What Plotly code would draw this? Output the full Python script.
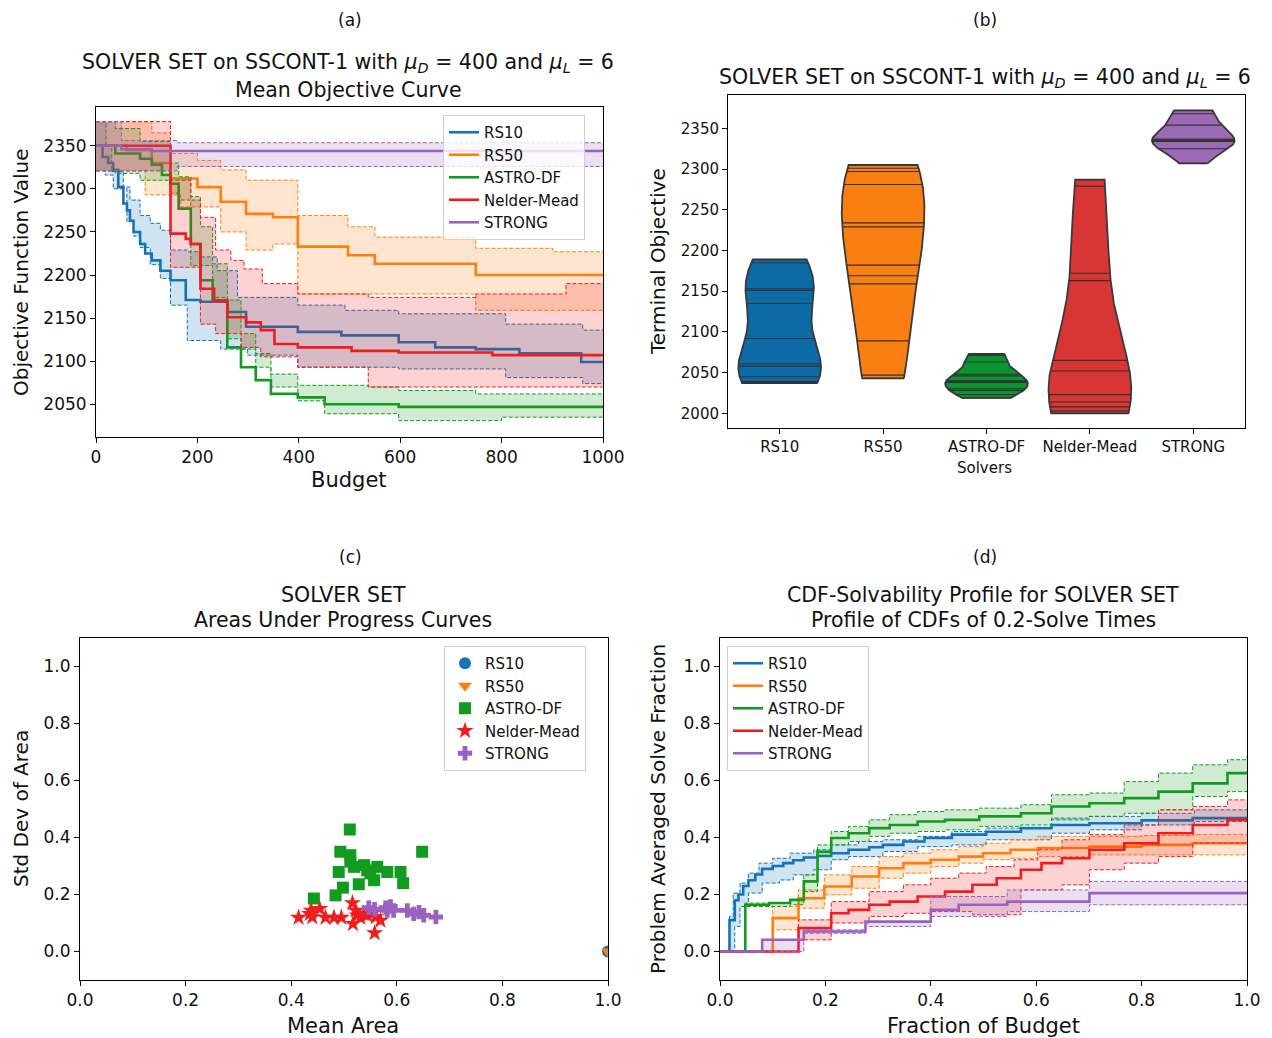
import numpy as np
import plotly.graph_objects as go

W, H = 1272, 1038
OFF = 8  # page body margin compensation
FW, FH = W - OFF, H - OFF

# ---------------- data ----------------
solvers = ["RS10", "RS50", "ASTRO-DF", "Nelder-Mead", "STRONG"]

# (a) mean objective curves (step functions: budget, value)
rs10_mean_b = [0, 13, 24, 34, 44, 54, 61, 67, 74, 87, 97, 110, 127, 147, 177, 206, 259, 296, 398, 484, 597, 669, 749, 835, 957, 1000]
rs10_mean_v = [2350, 2337, 2330, 2322, 2302, 2283, 2275, 2263, 2250, 2236, 2225, 2217, 2205, 2194, 2171, 2169, 2157, 2140, 2134, 2130, 2122, 2116, 2114, 2109, 2099, 2099]
rs10_up_b = [0, 20, 31, 54, 67, 87, 107, 127, 147, 180, 206, 239, 279, 398, 491, 597, 808, 960, 1000]
rs10_up_v = [2378, 2350, 2320, 2302, 2287, 2269, 2260, 2252, 2229, 2227, 2221, 2205, 2174, 2165, 2159, 2155, 2143, 2136, 2136]
rs10_lo_b = [0, 18, 34, 61, 74, 87, 107, 127, 147, 180, 246, 299, 398, 491, 597, 808, 960, 1000]
rs10_lo_v = [2321, 2316, 2300, 2262, 2245, 2232, 2212, 2196, 2165, 2124, 2114, 2107, 2093, 2093, 2091, 2081, 2074, 2074]

rs50_mean_b = [0, 60, 110, 147, 200, 246, 296, 349, 398, 497, 550, 749, 1000]
rs50_mean_v = [2350, 2345, 2330, 2312, 2302, 2285, 2271, 2267, 2233, 2223, 2213, 2200, 2200]
rs50_up_b = [0, 110, 147, 200, 246, 296, 398, 497, 550, 749, 901, 1000]
rs50_up_v = [2378, 2365, 2341, 2333, 2322, 2310, 2269, 2256, 2244, 2231, 2227, 2227]
rs50_lo_b = [0, 97, 167, 246, 296, 349, 398, 749, 1000]
rs50_lo_v = [2321, 2293, 2279, 2250, 2229, 2236, 2178, 2159, 2159]

astro_mean_b = [0, 38, 87, 110, 130, 147, 163, 187, 206, 230, 259, 286, 315, 345, 398, 451, 597, 1000]
astro_mean_v = [2350, 2341, 2335, 2328, 2316, 2306, 2277, 2236, 2194, 2171, 2116, 2093, 2078, 2062, 2058, 2050, 2047, 2048]
astro_up_b = [0, 38, 87, 147, 163, 187, 206, 230, 259, 286, 315, 345, 398, 537, 597, 749, 1000]
astro_up_v = [2378, 2370, 2355, 2330, 2314, 2291, 2256, 2213, 2171, 2132, 2109, 2085, 2072, 2070, 2066, 2062, 2062]
astro_lo_b = [0, 38, 87, 147, 163, 187, 230, 259, 286, 315, 345, 398, 451, 597, 800, 1000]
astro_lo_v = [2321, 2318, 2310, 2295, 2287, 2211, 2174, 2126, 2114, 2093, 2070, 2054, 2039, 2031, 2035, 2035]

nm_mean_b = [0, 147, 177, 187, 206, 233, 259, 296, 325, 352, 398, 504, 597, 782, 1000]
nm_mean_v = [2350, 2248, 2242, 2236, 2184, 2170, 2151, 2145, 2136, 2120, 2116, 2112, 2110, 2107, 2107]
nm_up_b = [0, 147, 187, 206, 236, 266, 292, 328, 398, 537, 749, 927, 1000]
nm_up_v = [2378, 2310, 2287, 2267, 2229, 2217, 2207, 2190, 2178, 2174, 2178, 2190, 2190]
nm_lo_b = [0, 147, 206, 236, 286, 325, 398, 537, 1000]
nm_lo_v = [2321, 2209, 2143, 2132, 2116, 2105, 2093, 2070, 2070]

strong_mean_b = [0, 50, 110, 1000]
strong_mean_v = [2350, 2346, 2344, 2344]
strong_up_b = [0, 50, 160, 1000]
strong_up_v = [2378, 2356, 2353.5, 2353.5]
strong_lo_b = [0, 160, 1000]
strong_lo_v = [2321, 2326, 2326]

# (b) terminal objective values per macroreplication
rs10_terminal = [2189, 2185, 2153, 2151, 2135, 2092, 2061, 2058, 2045, 2039, 2037]
rs50_terminal = [2305, 2301, 2297, 2281, 2234, 2229, 2182, 2169, 2159, 2089, 2047, 2043]
astro_terminal = [2073, 2071, 2063, 2048, 2046, 2040, 2039, 2038, 2030, 2028, 2023, 2019]
nm_terminal = [2287, 2279, 2172, 2163, 2065, 2052, 2023, 2014, 2008, 2003, 2000]
strong_terminal = [2372, 2368, 2354, 2337, 2336, 2335, 2334, 2325, 2307]

# (c) areas under progress curves
rs10_area_mean = [1.0]
rs10_area_std = [0.0]
rs50_area_mean = [1.0]
rs50_area_std = [0.0]
astro_area_mean = [0.511, 0.493, 0.648, 0.512, 0.512, 0.519, 0.538, 0.544, 0.563, 0.582, 0.607, 0.49, 0.55, 0.557, 0.528, 0.612, 0.498, 0.484, 0.443]
astro_area_std = [0.428, 0.35, 0.35, 0.338, 0.315, 0.297, 0.303, 0.285, 0.297, 0.279, 0.279, 0.279, 0.274, 0.25, 0.236, 0.24, 0.224, 0.197, 0.186]
nm_area_mean = [0.414, 0.435, 0.44, 0.454, 0.465, 0.481, 0.495, 0.516, 0.522, 0.525, 0.531, 0.517, 0.544, 0.557, 0.56, 0.569, 0.558, 0.438, 0.537]
nm_area_std = [0.119, 0.132, 0.121, 0.15, 0.119, 0.119, 0.119, 0.17, 0.144, 0.127, 0.119, 0.097, 0.127, 0.138, 0.121, 0.109, 0.065, 0.144, 0.132]
strong_area_mean = [0.547, 0.579, 0.588, 0.594, 0.582, 0.62, 0.632, 0.642, 0.651, 0.674, 0.558]
strong_area_std = [0.154, 0.154, 0.158, 0.144, 0.144, 0.144, 0.132, 0.138, 0.127, 0.121, 0.148]

# (d) CDF-solvability profiles (fraction of budget, solve fraction)
rs10_cdf_x = [0, 0.018, 0.028, 0.035, 0.044, 0.054, 0.067, 0.08, 0.1, 0.12, 0.139, 0.159, 0.185, 0.211, 0.244, 0.283, 0.309, 0.348, 0.388, 0.44, 0.505, 0.571, 0.629, 0.701, 0.8, 0.897, 1.0]
rs10_cdf_y = [0, 0.11, 0.18, 0.2, 0.23, 0.25, 0.27, 0.29, 0.30, 0.31, 0.32, 0.33, 0.335, 0.345, 0.357, 0.366, 0.374, 0.386, 0.398, 0.41, 0.42, 0.433, 0.444, 0.45, 0.46, 0.468, 0.468]
rs10_cdf_up_x = [0, 0.018, 0.025, 0.038, 0.054, 0.074, 0.1, 0.133, 0.178, 0.211, 0.263, 0.309, 0.375, 0.44, 0.505, 0.629, 0.701, 0.8, 0.9, 1.0]
rs10_cdf_up_y = [0, 0.123, 0.205, 0.24, 0.275, 0.31, 0.327, 0.345, 0.357, 0.374, 0.386, 0.392, 0.404, 0.421, 0.433, 0.468, 0.474, 0.485, 0.497, 0.497]
rs10_cdf_lo_x = [0, 0.018, 0.028, 0.038, 0.054, 0.08, 0.113, 0.139, 0.178, 0.211, 0.244, 0.309, 0.375, 0.44, 0.505, 0.629, 0.701, 0.8, 0.9, 1.0]
rs10_cdf_lo_y = [0, 0.0, 0.088, 0.158, 0.205, 0.24, 0.251, 0.269, 0.287, 0.322, 0.333, 0.351, 0.368, 0.374, 0.392, 0.415, 0.427, 0.444, 0.456, 0.456]

rs50_cdf_x = [0, 0.1, 0.149, 0.198, 0.25, 0.302, 0.348, 0.4, 0.453, 0.499, 0.551, 0.603, 0.701, 0.8, 0.897, 1.0]
rs50_cdf_y = [0, 0.117, 0.187, 0.228, 0.263, 0.292, 0.31, 0.322, 0.333, 0.345, 0.357, 0.363, 0.368, 0.374, 0.38, 0.38]
rs50_cdf_up_y = [0, 0.158, 0.216, 0.269, 0.298, 0.333, 0.345, 0.357, 0.368, 0.38, 0.392, 0.404, 0.404, 0.407, 0.41, 0.41]
rs50_cdf_lo_y = [0, 0.076, 0.152, 0.199, 0.222, 0.257, 0.275, 0.298, 0.31, 0.322, 0.327, 0.333, 0.339, 0.339, 0.339, 0.339]

astro_cdf_x = [0, 0.048, 0.093, 0.133, 0.159, 0.185, 0.211, 0.244, 0.283, 0.322, 0.375, 0.427, 0.492, 0.571, 0.629, 0.701, 0.767, 0.832, 0.897, 0.963, 1.0]
astro_cdf_y = [0, 0.164, 0.17, 0.181, 0.246, 0.35, 0.398, 0.415, 0.433, 0.444, 0.456, 0.462, 0.474, 0.485, 0.509, 0.52, 0.538, 0.561, 0.59, 0.626, 0.632]
astro_cdf_b_x = [0, 0.048, 0.133, 0.159, 0.185, 0.211, 0.244, 0.283, 0.322, 0.375, 0.427, 0.492, 0.571, 0.629, 0.701, 0.767, 0.832, 0.897, 0.963, 1.0]
astro_cdf_up_y = [0, 0.17, 0.181, 0.269, 0.374, 0.421, 0.439, 0.462, 0.48, 0.491, 0.497, 0.503, 0.515, 0.55, 0.556, 0.596, 0.626, 0.655, 0.673, 0.684]
astro_cdf_lo_y = [0, 0.158, 0.164, 0.21, 0.333, 0.374, 0.386, 0.404, 0.415, 0.421, 0.427, 0.439, 0.444, 0.462, 0.474, 0.485, 0.497, 0.544, 0.561, 0.567]

nm_cdf_x = [0, 0.149, 0.211, 0.244, 0.283, 0.322, 0.375, 0.427, 0.479, 0.525, 0.571, 0.61, 0.649, 0.701, 0.767, 0.832, 0.897, 0.963, 1.0]
nm_cdf_y = [0, 0.082, 0.134, 0.146, 0.164, 0.175, 0.193, 0.21, 0.234, 0.257, 0.287, 0.31, 0.327, 0.357, 0.38, 0.415, 0.444, 0.462, 0.468]
nm_cdf_up_x = [0, 0.149, 0.211, 0.283, 0.348, 0.4, 0.453, 0.505, 0.558, 0.603, 0.649, 0.701, 0.767, 0.832, 0.897, 0.963, 1.0]
nm_cdf_up_y = [0, 0.111, 0.175, 0.21, 0.234, 0.257, 0.275, 0.298, 0.322, 0.357, 0.392, 0.41, 0.444, 0.497, 0.509, 0.532, 0.532]
nm_cdf_lo_x = [0, 0.149, 0.211, 0.283, 0.348, 0.4, 0.479, 0.571, 0.649, 0.701, 0.767, 0.832, 0.897, 1.0]
nm_cdf_lo_y = [0, 0.041, 0.1, 0.123, 0.134, 0.14, 0.129, 0.216, 0.234, 0.287, 0.31, 0.333, 0.38, 0.386]

strong_cdf_x = [0, 0.08, 0.159, 0.276, 0.4, 0.453, 0.545, 0.701, 1.0]
strong_cdf_y = [0, 0.041, 0.07, 0.105, 0.146, 0.164, 0.175, 0.205, 0.205]
strong_cdf_b_x = [0, 0.08, 0.159, 0.276, 0.4, 0.545, 0.701, 1.0]
strong_cdf_up_y = [0, 0.041, 0.076, 0.105, 0.193, 0.216, 0.246, 0.246]
strong_cdf_lo_y = [0, 0.0, 0.064, 0.088, 0.123, 0.14, 0.164, 0.164]

# ---------------- styles ----------------
line_colors = ["#1473b6", "#ff7f0e", "#129c1f", "#ee1d1f", "#9a62c0"]
violin_colors = ["#0c6aa6", "#fa7f12", "#0b9531", "#d83535", "#9b69b6"]
FONT = "DejaVu Sans"


def rgba(hexc, a):
    h = hexc.lstrip("#")
    return "rgba(%d,%d,%d,%.2f)" % (int(h[0:2], 16), int(h[2:4], 16), int(h[4:6], 16), a)


def px(x):
    return (x - OFF) / FW


def py(y):
    return 1 - (y - OFF) / FH


fig = go.Figure()


def add_band(xa, ya, lo_x, lo_y, up_x, up_y, mx, my, color, name, legend):
    fig.add_trace(go.Scatter(x=lo_x, y=lo_y, mode="lines", line=dict(color=color, width=1, dash="4px,2px", shape="hv"),
                             showlegend=False, xaxis=xa, yaxis=ya, hoverinfo="skip"))
    fig.add_trace(go.Scatter(x=up_x, y=up_y, mode="lines", line=dict(color=color, width=1, dash="4px,2px", shape="hv"),
                             fill="tonexty", fillcolor=rgba(color, 0.2), showlegend=False, xaxis=xa, yaxis=ya,
                             hoverinfo="skip"))
    fig.add_trace(go.Scatter(x=mx, y=my, mode="lines", line=dict(color=color, width=2.6, shape="hv"),
                             name=name, legend=legend, xaxis=xa, yaxis=ya))


# (a)
curves_a = [
    (rs10_lo_b, rs10_lo_v, rs10_up_b, rs10_up_v, rs10_mean_b, rs10_mean_v),
    (rs50_lo_b, rs50_lo_v, rs50_up_b, rs50_up_v, rs50_mean_b, rs50_mean_v),
    (astro_lo_b, astro_lo_v, astro_up_b, astro_up_v, astro_mean_b, astro_mean_v),
    (nm_lo_b, nm_lo_v, nm_up_b, nm_up_v, nm_mean_b, nm_mean_v),
    (strong_lo_b, strong_lo_v, strong_up_b, strong_up_v, strong_mean_b, strong_mean_v),
]
for i, c in enumerate(curves_a):
    add_band("x", "y", *c, line_colors[i], solvers[i], "legend")

# (b) violins with stick lines
terminals = [rs10_terminal, rs50_terminal, astro_terminal, nm_terminal, strong_terminal]
for i, vals in enumerate(terminals):
    v = np.asarray(vals, float)
    bw = v.std(ddof=1) * len(v) ** (-1 / 5)
    grid = np.linspace(v.min(), v.max(), 200)

    def dens(g):
        g = np.atleast_1d(g)
        return np.exp(-0.5 * ((g[:, None] - v[None, :]) / bw) ** 2).sum(1)

    d = dens(grid)
    half = d / d.max() * 0.4
    xs = np.concatenate([i + half, (i - half)[::-1], [i + half[0]]])
    ys = np.concatenate([grid, grid[::-1], [grid[0]]])
    fig.add_trace(go.Scatter(x=xs, y=ys, mode="lines", fill="toself", fillcolor=violin_colors[i],
                             line=dict(color="#3a3a3a", width=1.8), showlegend=False, xaxis="x2", yaxis="y2",
                             hoverinfo="skip"))
    hw = dens(v) / d.max() * 0.4
    sx, sy = [], []
    for val, h in zip(v, hw):
        sx += [i - h, i + h, None]
        sy += [val, val, None]
    fig.add_trace(go.Scatter(x=sx, y=sy, mode="lines", line=dict(color="#333333", width=1.1),
                             showlegend=False, xaxis="x2", yaxis="y2", hoverinfo="skip"))

# (c) scatter
areas = [(rs10_area_mean, rs10_area_std, "circle"), (rs50_area_mean, rs50_area_std, "triangle-down"),
         (astro_area_mean, astro_area_std, "square"), (nm_area_mean, nm_area_std, "star"),
         (strong_area_mean, strong_area_std, "cross")]
sizes = [12, 12, 12, 13, 12]
for i, (mx, sd, sym) in enumerate(areas):
    fig.add_trace(go.Scatter(x=mx, y=sd, mode="markers", marker=dict(symbol=sym, size=sizes[i], color=line_colors[i],
                                                                      line=dict(width=0)),
                             name=solvers[i], legend="legend2", xaxis="x3", yaxis="y3"))

# (d)
curves_d = [
    (rs10_cdf_lo_x, rs10_cdf_lo_y, rs10_cdf_up_x, rs10_cdf_up_y, rs10_cdf_x, rs10_cdf_y),
    (rs50_cdf_x, rs50_cdf_lo_y, rs50_cdf_x, rs50_cdf_up_y, rs50_cdf_x, rs50_cdf_y),
    (astro_cdf_b_x, astro_cdf_lo_y, astro_cdf_b_x, astro_cdf_up_y, astro_cdf_x, astro_cdf_y),
    (nm_cdf_lo_x, nm_cdf_lo_y, nm_cdf_up_x, nm_cdf_up_y, nm_cdf_x, nm_cdf_y),
    (strong_cdf_b_x, strong_cdf_lo_y, strong_cdf_b_x, strong_cdf_up_y, strong_cdf_x, strong_cdf_y),
]
for i, c in enumerate(curves_d):
    add_band("x4", "y4", *c, line_colors[i], solvers[i], "legend3")

# ---------------- layout ----------------
def tf(s):
    return dict(family=FONT, size=s, color="#111")


axis_common = dict(showline=True, mirror=True, linecolor="black", linewidth=1, ticks="outside", ticklen=5,
                   tickcolor="black", showgrid=False, zeroline=False, tickfont=tf(17), automargin=False)

legend_common = dict(xanchor="left", yanchor="top", bgcolor="rgba(255,255,255,0.8)", bordercolor="#d0d0d0",
                     borderwidth=1, font=tf(15), tracegroupgap=0, itemwidth=30, traceorder="normal")

layout = dict(
    width=FW, height=FH, margin=dict(l=0, r=0, t=0, b=0, autoexpand=False), paper_bgcolor="white",
    plot_bgcolor="white", font=dict(family=FONT, color="#111"),
    xaxis=dict(axis_common, domain=[px(96), px(603)], range=[0, 1000], tickvals=[0, 200, 400, 600, 800, 1000],
               anchor="y"),
    yaxis=dict(axis_common, domain=[py(437), py(107)], range=[2012, 2395],
               tickvals=[2050, 2100, 2150, 2200, 2250, 2300, 2350], anchor="x"),
    xaxis2=dict(axis_common, domain=[px(728), px(1245)], range=[-0.5, 4.5], tickvals=list(range(len(solvers))),
                ticktext=solvers, anchor="y2", tickfont=tf(15)),
    yaxis2=dict(axis_common, domain=[py(428), py(95)], range=[1982, 2391],
                tickvals=[2000, 2050, 2100, 2150, 2200, 2250, 2300, 2350], anchor="x2", tickfont=tf(15)),
    xaxis3=dict(axis_common, domain=[px(80), px(608)], range=[0, 1], tickvals=[0, 0.2, 0.4, 0.6, 0.8, 1.0],
                tickformat=".1f", anchor="y3"),
    yaxis3=dict(axis_common, domain=[py(980), py(638)], range=[-0.1, 1.1], tickvals=[0, 0.2, 0.4, 0.6, 0.8, 1.0],
                tickformat=".1f", anchor="x3"),
    xaxis4=dict(axis_common, domain=[px(720), px(1247)], range=[0, 1], tickvals=[0, 0.2, 0.4, 0.6, 0.8, 1.0],
                tickformat=".1f", anchor="y4"),
    yaxis4=dict(axis_common, domain=[py(980), py(638)], range=[-0.1, 1.1], tickvals=[0, 0.2, 0.4, 0.6, 0.8, 1.0],
                tickformat=".1f", anchor="x4"),
    legend=dict(legend_common, x=px(443), y=py(115)),
    legend2=dict(legend_common, x=px(444), y=py(646)),
    legend3=dict(legend_common, x=px(727), y=py(646)),
)
fig.update_layout(**layout)

title_a = "SOLVER SET on SSCONT-1 with <i>μ</i><sub><i>D</i></sub> = 400 and <i>μ</i><sub><i>L</i></sub> = 6"
texts = [
    ("(a)", 350, 20, 17, 0), ("(b)", 985, 20, 17, 0), ("(c)", 350, 557, 17, 0), ("(d)", 985, 557, 17, 0),
    (title_a, 348, 63, 20.5, 0), ("Mean Objective Curve", 348, 90, 20.5, 0),
    (title_a, 985, 78, 20.5, 0),
    ("SOLVER SET", 343, 595, 20.5, 0), ("Areas Under Progress Curves", 343, 620, 20.5, 0),
    ("CDF-Solvability Profile for SOLVER SET", 983, 595, 20.5, 0), ("Profile of CDFs of 0.2-Solve Times", 983, 620, 20.5, 0),
    ("Objective Function Value", 21, 272, 20, -90), ("Budget", 349, 480, 21, 0),
    ("Terminal Objective", 658, 262, 20, -90), ("Solvers", 984, 468, 15, 0),
    ("Std Dev of Area", 21, 809, 20, -90), ("Mean Area", 343, 1026, 21, 0),
    ("Problem Averaged Solve Fraction", 658, 809, 20, -90), ("Fraction of Budget", 983, 1026, 21, 0),
]
for t, x, y, s, ang in texts:
    fig.add_annotation(text=t, x=px(x), y=py(y), xref="paper", yref="paper", xanchor="center", yanchor="middle",
                       showarrow=False, textangle=ang, font=tf(s))

fig.write_html("out.html")
